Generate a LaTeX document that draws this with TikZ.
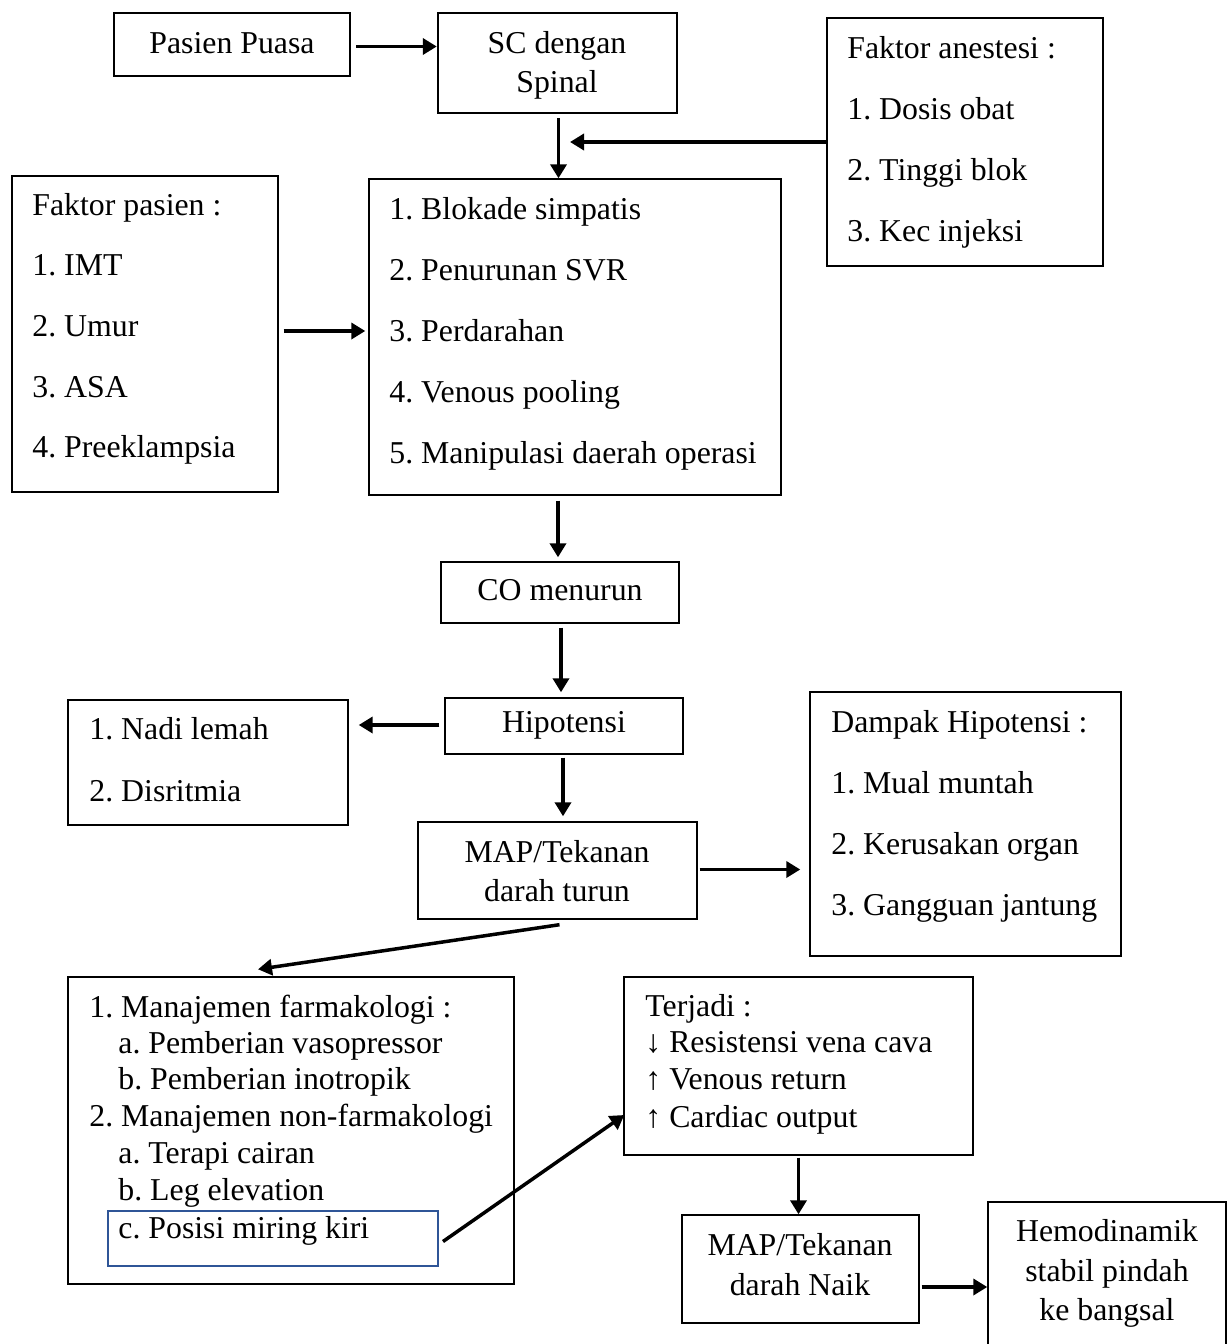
\documentclass[tikz,border=0pt]{standalone}
\usepackage{fontspec}
\setmainfont{Liberation Serif}
\usetikzlibrary{arrows.meta,fit,calc}
\definecolor{boxblue}{RGB}{47,85,151}
\frenchspacing
\begin{document}
\begin{tikzpicture}[x=0.5pt,y=-0.5pt,
  box/.style={draw,line width=0.7pt,inner sep=0pt},
  tbox/.style={draw,line width=1.2pt,inner sep=0pt},
  bbox/.style={draw=boxblue,line width=1pt,inner sep=0pt},
  txt/.style={inner sep=0pt,anchor=base west,font=\fontsize{15.9}{19}\selectfont},
  ctxt/.style={inner sep=0pt,anchor=base,font=\fontsize{15.9}{19}\selectfont},
  arr/.style={line width=1.75pt,-{Triangle[length=7pt,width=8pt]}}]
\useasboundingbox (0,0) rectangle (1230,1344);

% boxes
\node[tbox,fit={(114,13)(350,76)}] (pp) {};
\node[tbox,fit={(438,13)(677,113)}] (sc) {};
\node[box,fit={(827,18)(1103,266)}] (fa) {};
\node[box,fit={(12,176)(278,492)}] (fp) {};
\node[box,fit={(369,179)(781,495)}] (bl) {};
\node[box,fit={(441,562)(679,623)}] (co) {};
\node[box,fit={(445,698)(683,754)}] (hi) {};
\node[box,fit={(68,700)(348,825)}] (na) {};
\node[box,fit={(810,692)(1121,956)}] (da) {};
\node[box,fit={(418,822)(697,919)}] (mt) {};
\node[box,fit={(68,977)(514,1284)}] (mj) {};
\node[bbox,fit={(108,1211)(438,1266)}] (blue) {};
\node[box,fit={(624,977)(973,1155)}] (tj) {};
\node[box,fit={(682,1215)(919,1323)}] (mn) {};
\node[box,fit={(988,1202)(1226,1380)}] (he) {};

% texts
\node[ctxt] (t1) at (232,53) {Pasien Puasa};
\node[ctxt] (t2) at (557,53) {SC dengan};
\node[ctxt] (t3) at (557,92) {Spinal};

\node[txt] (t4) at (847,58) {Faktor anestesi :};
\node[txt] (t5) at (847,119) {1. Dosis obat};
\node[txt] (t6) at (847,180) {2. Tinggi blok};
\node[txt] (t7) at (847,241) {3. Kec injeksi};

\node[txt] (t8) at (32,215) {Faktor pasien :};
\node[txt] (t9) at (32,275) {1. IMT};
\node[txt] (t10) at (32,336) {2. Umur};
\node[txt] (t11) at (32,397) {3. ASA};
\node[txt] (t12) at (32,457) {4. Preeklampsia};

\node[txt] (t13) at (389,219) {1. Blokade simpatis};
\node[txt] (t14) at (389,280) {2. Penurunan SVR};
\node[txt] (t15) at (389,341) {3. Perdarahan};
\node[txt] (t16) at (389,402) {4. Venous pooling};
\node[txt] (t17) at (389,463) {5. Manipulasi daerah operasi};

\node[ctxt] (t18) at (560,600) {CO menurun};
\node[ctxt] (t19) at (564,732) {Hipotensi};

\node[txt] (t20) at (89,739) {1. Nadi lemah};
\node[txt] (t21) at (89,801) {2. Disritmia};

\node[txt] (t22) at (831,732) {Dampak Hipotensi :};
\node[txt] (t23) at (831,793) {1. Mual muntah};
\node[txt] (t24) at (831,854) {2. Kerusakan organ};
\node[txt] (t25) at (831,915) {3. Gangguan jantung};

\node[ctxt] (t26) at (557,862) {MAP/Tekanan};
\node[ctxt] (t27) at (557,901) {darah turun};

\node[txt] (t28) at (89,1017) {1. Manajemen farmakologi :};
\node[txt] (t29) at (118,1053) {a. Pemberian vasopressor};
\node[txt] (t30) at (118,1089) {b. Pemberian inotropik};
\node[txt] (t31) at (89,1126) {2. Manajemen non-farmakologi};
\node[txt] (t32) at (118,1163) {a. Terapi cairan};
\node[txt] (t33) at (118,1200) {b. Leg elevation};
\node[txt] (t34) at (118,1238) {c. Posisi miring kiri};

\node[txt] (t35) at (645,1016) {Terjadi :};
\node[txt] (t36) at (645,1052) {↓ Resistensi vena cava};
\node[txt] (t37) at (645,1089) {↑ Venous return};
\node[txt] (t38) at (645,1127) {↑ Cardiac output};

\node[ctxt] (t39) at (800,1255) {MAP/Tekanan};
\node[ctxt] (t40) at (800,1295) {darah Naik};

\node[ctxt] (t41) at (1107,1241) {Hemodinamik};
\node[ctxt] (t42) at (1107,1281) {stabil pindah};
\node[ctxt] (t43) at (1107,1320) {ke bangsal};

% connectors
\coordinate (j) at (570,142);
\draw[arr] ($(pp.east)+(5,2)$) -- ($(pp.east -| sc.west)+(0,2)$);
\draw[arr] ($(sc.south)+(1,4)$) -- ($(sc.south |- bl.north)+(1,0)$);
\draw[arr] (fa.west |- j) -- (j);
\draw[arr] ($(fp.east)+(5,-3)$) -- ($(fp.east -| bl.west)+(-3,-3)$);
\draw[arr] ($(bl.south -| co.north)+(-2,5)$) -- ($(co.north)+(-2,-4)$);
\draw[arr] ($(co.south)+(1,4)$) -- ($(co.south |- hi.north)+(1,-5)$);
\draw[arr] ($(hi.west)+(-5,-1)$) -- ($(hi.west -| na.east)+(10,-1)$);
\draw[arr] ($(hi.south)+(-1,3)$) -- ($(hi.south |- mt.north)+(-1,-5)$);
\draw[arr] ($(mt.east)+(2,-1)$) -- ($(mt.east -| da.west)+(-9,-1)$);
\draw[arr] ($(mt.south)+(2,5)$) -- ($(mj.north)+(-33,-7)$);
\draw[arr] ($(blue.east)+(4,3)$) -- ($(tj.west)+(1,49)$);
\draw[arr] ($(tj.south)+(0,2)$) -- (tj.south |- mn.north);
\draw[arr] ($(mn.east)+(2,18)$) -- ($(mn.east -| he.west)+(0,18)$);
\end{tikzpicture}
\end{document}
